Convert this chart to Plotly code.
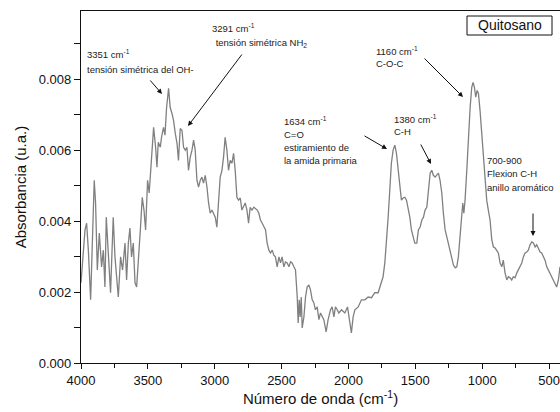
import plotly.graph_objects as go

# ---- data (wavenumber in cm^-1, absorbance in u.a.) ----
wavenumber = [
    4000, 3970, 3958, 3945, 3928, 3908, 3901, 3891, 3878, 3863, 3846, 3833, 3821, 3811,
    3796, 3779, 3759, 3746, 3721, 3704, 3689, 3671, 3659, 3646, 3634, 3622, 3609, 3596,
    3584, 3572, 3555, 3542, 3529, 3517, 3502, 3490, 3477, 3467, 3457, 3442, 3432, 3422,
    3407, 3398, 3383, 3372, 3360, 3345, 3333, 3320, 3308, 3295, 3282, 3271, 3258, 3245,
    3233, 3220, 3208, 3196, 3183, 3170, 3158, 3146, 3133, 3121, 3108, 3096, 3084, 3071,
    3058, 3046, 3034, 3021, 3009, 2996, 2984, 2972, 2959, 2946, 2934, 2922, 2909, 2897,
    2884, 2871, 2859, 2847, 2834, 2822, 2809, 2797, 2785, 2772, 2759, 2747, 2735, 2722,
    2707, 2682, 2670, 2658, 2645, 2632, 2620, 2608, 2595, 2583, 2570, 2558, 2546, 2533,
    2520, 2508, 2496, 2483, 2471, 2458, 2445, 2433, 2421, 2408, 2396, 2383, 2376, 2368,
    2361, 2353, 2346, 2333, 2321, 2309, 2296, 2284, 2271, 2259, 2247, 2234, 2221, 2209,
    2197, 2184, 2167, 2152, 2134, 2122, 2109, 2097, 2084, 2072, 2052, 2027, 2007, 1989,
    1978, 1965, 1952, 1927, 1903, 1877, 1853, 1828, 1803, 1778, 1765, 1753, 1741, 1728,
    1716, 1703, 1691, 1679, 1666, 1653, 1641, 1629, 1616, 1604, 1591, 1578, 1566, 1554,
    1541, 1529, 1516, 1504, 1489, 1477, 1464, 1451, 1439, 1427, 1414, 1402, 1389, 1377,
    1365, 1352, 1339, 1327, 1315, 1302, 1290, 1277, 1264, 1253, 1240, 1227, 1215, 1202,
    1190, 1178, 1165, 1152, 1145, 1137, 1128, 1115, 1103, 1090, 1078, 1068, 1058, 1048,
    1038, 1028, 1016, 1003, 991, 978, 966, 954, 941, 928, 916, 903, 891, 879, 866, 853,
    842, 829, 816, 804, 791, 779, 767, 754, 741, 729, 717, 704, 692, 679, 667, 655, 642,
    629, 617, 604, 592, 580, 567, 555, 543, 530, 517, 505, 493, 480, 468, 455, 443, 430,
    418,
]
absorbance = [
    0.00226, 0.00375, 0.00394, 0.00318, 0.00178, 0.00431, 0.00515, 0.00451, 0.00262,
    0.00366, 0.00271, 0.00318, 0.00214, 0.00411, 0.00290, 0.00198, 0.00411, 0.00299,
    0.00186, 0.00299, 0.00262, 0.00338, 0.00234, 0.00338, 0.00380, 0.00299, 0.00338,
    0.00226, 0.00214, 0.00299, 0.00383, 0.00467, 0.00431, 0.00375, 0.00515, 0.00479,
    0.00543, 0.00591, 0.00664, 0.00608, 0.00552, 0.00622, 0.00608, 0.00636, 0.00664,
    0.00642, 0.00720, 0.00774, 0.00720, 0.00704, 0.00684, 0.00647, 0.00619, 0.00571,
    0.00661, 0.00656, 0.00608, 0.00600, 0.00608, 0.00543, 0.00580, 0.00600, 0.00628,
    0.00600, 0.00515, 0.00496, 0.00515, 0.00524, 0.00507, 0.00529, 0.00496, 0.00451,
    0.00422, 0.00431, 0.00422, 0.00411, 0.00383, 0.00467, 0.00524, 0.00543, 0.00580,
    0.00636, 0.00600, 0.00543, 0.00571, 0.00563, 0.00591, 0.00543, 0.00467, 0.00459,
    0.00465, 0.00431, 0.00439, 0.00451, 0.00431, 0.00394, 0.00439, 0.00431, 0.00439,
    0.00431, 0.00422, 0.00403, 0.00394, 0.00383, 0.00375, 0.00338, 0.00318, 0.00310,
    0.00318, 0.00304, 0.00299, 0.00271, 0.00299, 0.00282, 0.00299, 0.00271, 0.00285,
    0.00282, 0.00271, 0.00285, 0.00282, 0.00271, 0.00262, 0.00186, 0.00113, 0.00178,
    0.00130, 0.00186, 0.00099, 0.00130, 0.00186, 0.00214, 0.00220, 0.00206, 0.00178,
    0.00170, 0.00150, 0.00158, 0.00122, 0.00141, 0.00130, 0.00122, 0.00088, 0.00122,
    0.00150, 0.00158, 0.00130, 0.00158, 0.00150, 0.00141, 0.00150, 0.00141, 0.00158,
    0.00113, 0.00085, 0.00130, 0.00150, 0.00158, 0.00178, 0.00178, 0.00186, 0.00184,
    0.00198, 0.00198, 0.00214, 0.00234, 0.00243, 0.00282, 0.00338, 0.00411, 0.00487,
    0.00563, 0.00600, 0.00614, 0.00591, 0.00543, 0.00487, 0.00459, 0.00465, 0.00467,
    0.00459, 0.00439, 0.00411, 0.00375, 0.00355, 0.00338, 0.00338, 0.00375, 0.00383,
    0.00403, 0.00411, 0.00431, 0.00439, 0.00496, 0.00535, 0.00543, 0.00529, 0.00524,
    0.00529, 0.00535, 0.00515, 0.00479, 0.00422, 0.00375, 0.00355, 0.00338, 0.00318,
    0.00299, 0.00276, 0.00268, 0.00271, 0.00299, 0.00355, 0.00422, 0.00451, 0.00422,
    0.00459, 0.00543, 0.00636, 0.00720, 0.00777, 0.00791, 0.00777, 0.00749, 0.00768,
    0.00760, 0.00712, 0.00647, 0.00571, 0.00507, 0.00459, 0.00431, 0.00403, 0.00347,
    0.00327, 0.00324, 0.00318, 0.00310, 0.00282, 0.00271, 0.00290, 0.00254, 0.00234,
    0.00243, 0.00240, 0.00234, 0.00243, 0.00240, 0.00254, 0.00262, 0.00271, 0.00282,
    0.00299, 0.00310, 0.00313, 0.00318, 0.00333, 0.00341, 0.00338, 0.00327, 0.00333,
    0.00324, 0.00313, 0.00310, 0.00299, 0.00290, 0.00271, 0.00262, 0.00254, 0.00243,
    0.00234, 0.00226, 0.00214, 0.00234, 0.00271,
]
x_tick_values = [4000, 3500, 3000, 2500, 2000, 1500, 1000, 500]
y_tick_values = [0.000, 0.002, 0.004, 0.006, 0.008]

W, H = 560, 412
ML, MR, MT, MB = 81, 0, 11, 49
FONT = "Liberation Sans, Arial, sans-serif"


def px(xp):
    return (xp - ML) / (W - ML - MR)


def py(yp):
    return (H - MB - yp) / (H - MT - MB)


fig = go.Figure()
fig.add_trace(go.Scatter(
    x=wavenumber, y=absorbance, mode="lines",
    line=dict(color="#808080", width=1.3), showlegend=False,
))

annotations = []
# text labels: (left x px, center y px, text)
labels = [
    (85, 54, "3351 cm<sup>-1</sup>"),
    (85, 69, "tensión simétrica del OH-"),
    (210, 28, "3291 cm<sup>-1</sup>"),
    (211, 43, " tensión simétrica NH<sub>2</sub>"),
    (374, 51, "1160 cm<sup>-1</sup>"),
    (374, 64, "C-O-C"),
    (282, 121, "1634 cm<sup>-1</sup>"),
    (282, 134, "C=O"),
    (282, 147, "estiramiento de"),
    (282, 160, "la amida primaria"),
    (392, 119, "1380 cm<sup>-1</sup>"),
    (392, 131, "C-H"),
    (485, 160, "700-900"),
    (485, 174, "Flexion C-H"),
    (485, 187, "anillo aromático"),
]
for lx, ly, t in labels:
    annotations.append(dict(
        x=px(lx), y=py(ly), xref="paper", yref="paper", text=t,
        showarrow=False, xanchor="left", yanchor="middle",
        font=dict(family=FONT, size=9.5, color="#222"),
    ))

# arrows: (tail x, tail y, head x, head y) in pixels
arrows = [
    (149, 79, 162, 94),
    (243, 53, 188, 126),
    (423, 57, 463, 97),
    (363, 135, 387, 149),
    (420, 143, 431, 164),
    (533, 212, 533, 236),
]
for tx, ty, hx, hy in arrows:
    annotations.append(dict(
        x=px(hx), y=py(hy), xref="paper", yref="paper", text="",
        showarrow=True, ax=tx - hx, ay=ty - hy,
        arrowhead=2, arrowsize=1, arrowwidth=1, arrowcolor="#111",
    ))

annotations.append(dict(
    x=px(509.5), y=py(25.5), xref="paper", yref="paper", text="Quitosano",
    showarrow=False, xanchor="center", yanchor="middle",
    font=dict(family=FONT, size=14, color="#111"),
))

fig.update_layout(
    width=W, height=H,
    margin=dict(l=ML, r=MR, t=MT, b=MB, autoexpand=False),
    plot_bgcolor="white", paper_bgcolor="white",
    font=dict(family=FONT, color="#111"),
    annotations=annotations,
    shapes=[dict(type="rect", xref="paper", yref="paper",
                 x0=px(467), x1=px(552), y0=py(35), y1=py(16),
                 line=dict(color="#111", width=1))],
    xaxis=dict(
        range=[4000, 418], tickvals=x_tick_values, automargin=False,
        ticks="outside", ticklen=5, tickwidth=1, tickcolor="#111",
        showline=True, linecolor="#111", linewidth=1.3, mirror=True,
        showgrid=False, zeroline=False,
        tickfont=dict(family=FONT, size=13, color="#111"),
        minor=dict(dtick=250, tick0=0, ticks="outside", ticklen=4, tickcolor="#111"),
        title=dict(text="Número de onda (cm<sup>-1</sup>)", standoff=2,
                   font=dict(family=FONT, size=15, color="#111")),
    ),
    yaxis=dict(
        range=[0, 0.00992], tickvals=y_tick_values, tickformat=".3f", automargin=False,
        ticks="outside", ticklen=6, tickwidth=1, tickcolor="#111",
        showline=True, linecolor="#111", linewidth=1.3, mirror=False,
        showgrid=False, zeroline=False,
        tickfont=dict(family=FONT, size=13, color="#111"),
        minor=dict(dtick=0.001, tick0=0, ticks="outside", ticklen=6, tickcolor="#111"),
        title=dict(text="Absorbancia (u.a.)", standoff=8,
                   font=dict(family=FONT, size=15, color="#111")),
    ),
)

fig.write_html(
    "out.html",
    config={"displayModeBar": False},
    post_script="document.body.style.margin='0';document.body.style.overflow='hidden';",
)
